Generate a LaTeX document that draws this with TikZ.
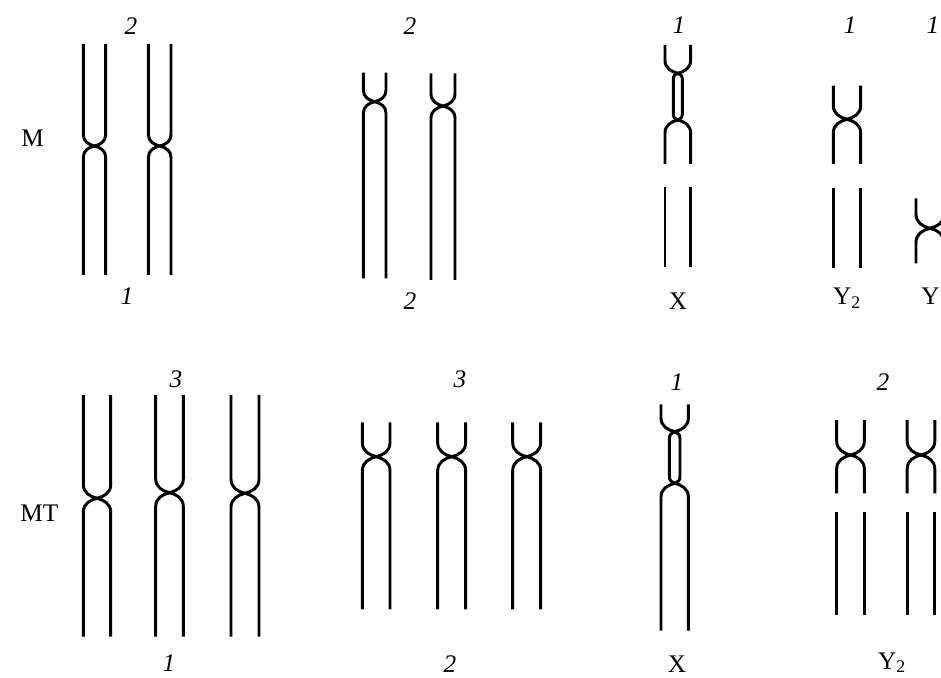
\documentclass[tikz,border=0pt]{standalone}
\usepackage{fontspec}
\setmainfont{Liberation Serif}
\usepackage{tikz}

\tikzset{
    chromo/.style={line width=2.1pt},
    num/.style={anchor=base,inner sep=0pt,font=\fontsize{18}{20}\selectfont\itshape},
    sym/.style={anchor=base,inner sep=0pt,font=\fontsize{18}{20}\selectfont},
}

\newcommand\toparm[4]{%
    \draw[chromo] ({#1-#3},#4) -- ({#1-#3},{#2-#3})
        .. controls ({#1-#3},{#2-0.4*#3}) and ({#1-0.5*#3},{#2-0.12*#3}) .. (#1,#2)
        .. controls ({#1+0.5*#3},{#2-0.12*#3}) and ({#1+#3},{#2-0.4*#3}) .. ({#1+#3},{#2-#3})
        -- ({#1+#3},#4);}
\newcommand\botarm[4]{%
    \draw[chromo] ({#1-#3},#4) -- ({#1-#3},{#2+#3})
        .. controls ({#1-#3},{#2+0.4*#3}) and ({#1-0.5*#3},{#2+0.12*#3}) .. (#1,#2)
        .. controls ({#1+0.5*#3},{#2+0.12*#3}) and ({#1+#3},{#2+0.4*#3}) .. ({#1+#3},{#2+#3})
        -- ({#1+#3},#4);}
\newcommand\chrom[5]{\toparm{#1}{#2}{#3}{#4}\botarm{#1}{#2}{#3}{#5}}
\newcommand\piece[4]{%
    \draw[chromo] ({#1-#2},#3) -- ({#1-#2},#4) ({#1+#2},#3) -- ({#1+#2},#4);}
\newcommand\satloop[4]{%
    \draw[chromo] (#1,#2)
        .. controls ({#1+0.6*#4},{#2+0.2*#4}) and ({#1+#4},{#2+0.5*#4}) .. ({#1+#4},{#2+1.3*#4})
        -- ({#1+#4},{#3-1.3*#4})
        .. controls ({#1+#4},{#3-0.5*#4}) and ({#1+0.6*#4},{#3-0.2*#4}) .. (#1,#3)
        .. controls ({#1-0.6*#4},{#3-0.2*#4}) and ({#1-#4},{#3-0.5*#4}) .. ({#1-#4},{#3-1.3*#4})
        -- ({#1-#4},{#2+1.3*#4})
        .. controls ({#1-#4},{#2+0.5*#4}) and ({#1-0.6*#4},{#2+0.2*#4}) .. cycle;}

\begin{document}
\begin{tikzpicture}[x=0.25mm,y=-0.25mm]
    \useasboundingbox (0,0) rectangle (941,678);
    \clip (0,0) rectangle (941,678);

    \node[sym,anchor=base west] (m) at (21,147) {M};
    \node[sym,anchor=base west] (mt) at (20,521) {MT};

    \chrom{94.5}{146}{11.2}{44}{275}
    \chrom{159.7}{146}{11.3}{44}{275}
    \node[num] (m-a-top) at (131,35) {2};
    \node[num] (m-a-bot) at (127,305) {1};

    \chrom{374.7}{101.7}{11.3}{72.7}{278.3}
    \chrom{443}{106}{12}{73.3}{280}
    \node[num] (m-b-top) at (410,35) {2};
    \node[num] (m-b-bot) at (410,309) {2};

    \toparm{677.8}{73.3}{12.8}{45}
    \satloop{677.8}{73.3}{120}{4.5}
    \botarm{677.8}{120}{12.8}{164}
    \piece{677.8}{12.8}{186.7}{266.7}
    \node[num] (m-x-top) at (679,34) {1};
    \node[sym] (m-x-bot) at (678,309) {X};

    \chrom{847}{119.3}{13.7}{85.7}{164}
    \piece{847}{13.7}{187.7}{268.3}
    \node[num] (m-y2-top) at (850,34) {1};
    \node[sym] (m-y2-bot) at (847,305) {Y\textsubscript{2}};

    \chrom{930}{228.3}{14}{198.3}{263.3}
    \node[num] (m-y1-top) at (933,34) {1};
    \node[sym,anchor=base west] (m-y1-bot) at (921,305) {Y};

    \chrom{97}{498.3}{13.7}{395}{636.7}
    \chrom{169.5}{492.7}{13.8}{395}{636.7}
    \chrom{245}{493.3}{14}{395}{636.7}
    \node[num] (mt-a-top) at (176,388) {3};
    \node[num] (mt-a-bot) at (169,671) {1};

    \chrom{376.2}{456.7}{13.8}{422.3}{609.3}
    \chrom{451.7}{456.7}{14}{422.3}{609.3}
    \chrom{526.7}{456.7}{14}{422.3}{609.3}
    \node[num] (mt-b-top) at (460,388) {3};
    \node[num] (mt-b-bot) at (450,672) {2};

    \toparm{674.7}{431.7}{13.7}{404.3}
    \satloop{674.7}{431.7}{483.3}{5.3}
    \botarm{674.7}{483.3}{13.7}{630.7}
    \node[num] (mt-x-top) at (677,391) {1};
    \node[sym] (mt-x-bot) at (677,672) {X};

    \chrom{850.5}{455}{13.8}{420}{493.3}
    \piece{850.5}{13.8}{511.7}{615}
    \chrom{921}{455}{13.8}{420}{493.3}
    \piece{921}{13.8}{511.7}{615}
    \node[num] (mt-y2-top) at (883,391) {2};
    \node[sym] (mt-y2-bot) at (892,669) {Y\textsubscript{2}};
\end{tikzpicture}
\end{document}
